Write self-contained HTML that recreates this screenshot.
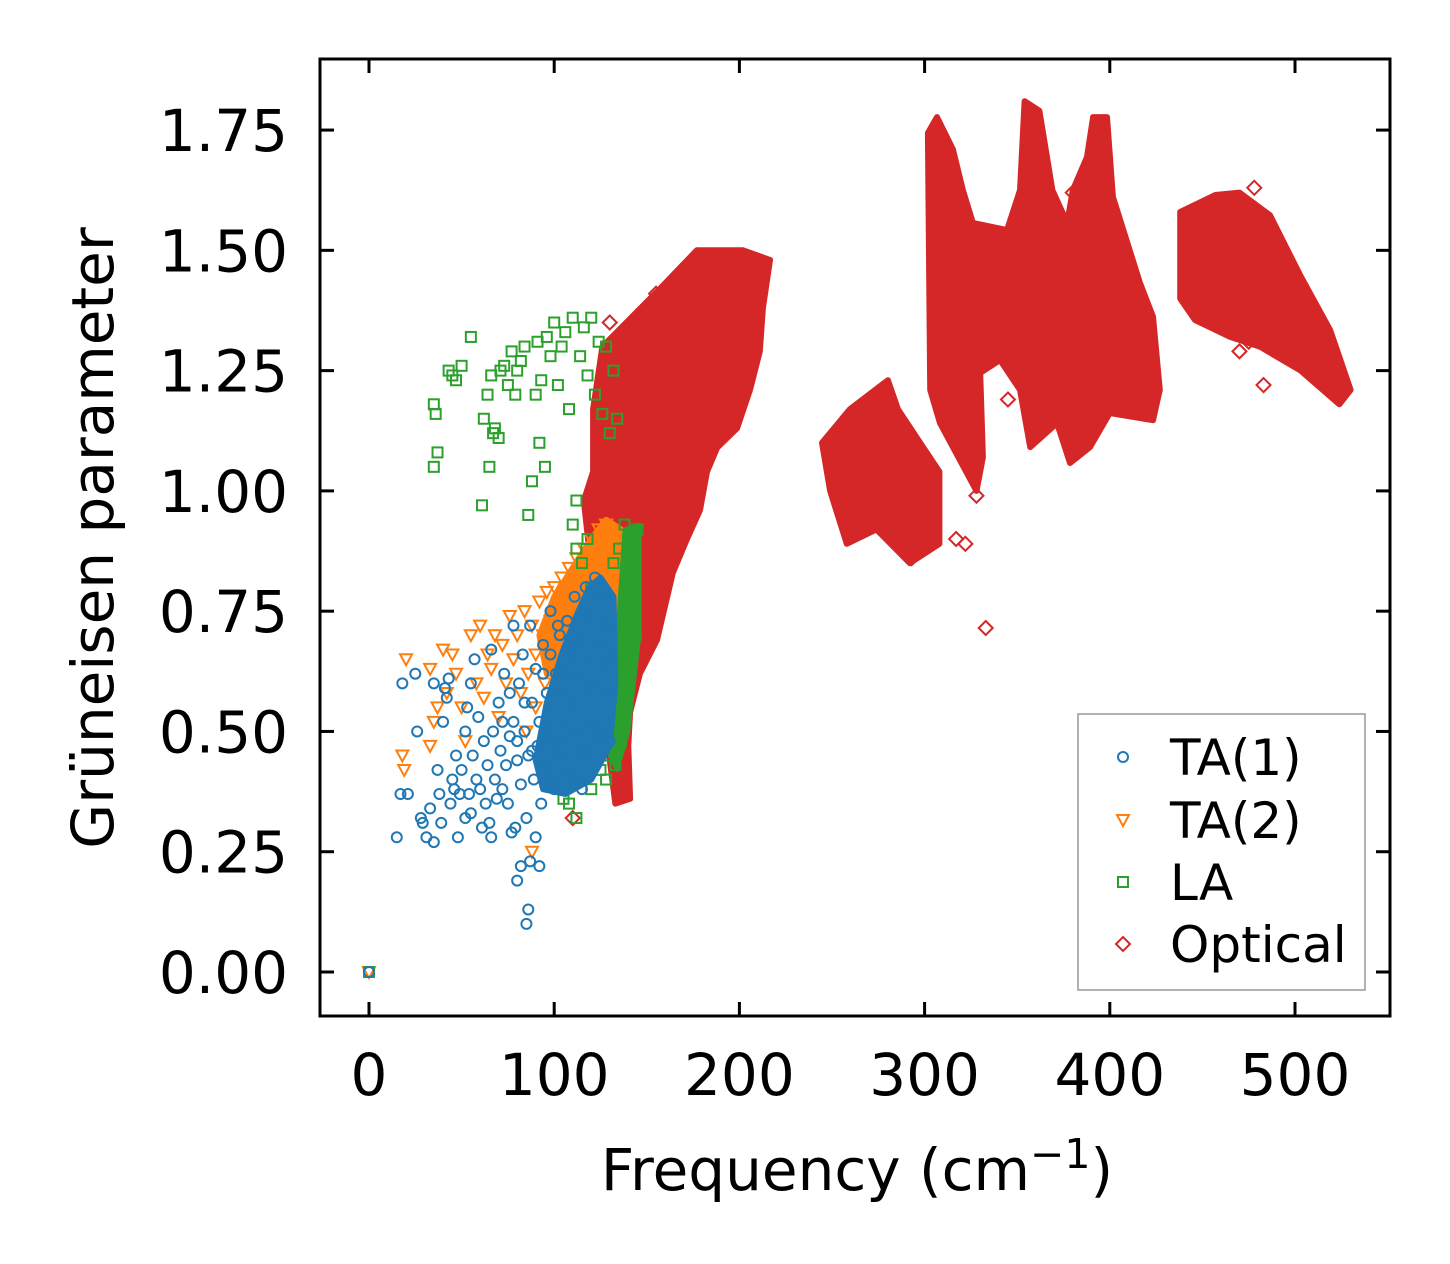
<!DOCTYPE html>
<html><head><meta charset="utf-8">
<style>
html,body{margin:0;padding:0;background:#fff;}
svg{display:block;font-family:"DejaVu Sans","Liberation Sans",sans-serif;}
</style></head>
<body>
<svg id="chart" width="1450" height="1264" viewBox="0 0 1450 1264" xmlns="http://www.w3.org/2000/svg">
<rect x="0" y="0" width="1450" height="1264" fill="#fff"/>
<g id="marks"></g>
<rect x="320" y="59" width="1070" height="957" fill="none" stroke="#000" stroke-width="3"/>
<g id="axes"></g>
<text x="857" y="1190" font-size="58" text-anchor="middle">Frequency (cm<tspan dy="-22" font-size="41">−1</tspan><tspan dy="22">)</tspan></text>
<text transform="translate(113,538) rotate(-90)" font-size="58" text-anchor="middle">Grüneisen parameter</text>
<g>
<rect x="1078" y="714" width="287" height="276" fill="#fff" stroke="#999" stroke-width="1.5"/>
<g><circle cx="1123" cy="757" r="5" fill="none" stroke="#1f77b4" stroke-width="2"/><text x="1170" y="775" font-size="50">TA(1)</text></g>
<g><path d="M1117,815 L1129,815 L1123,826 Z" fill="none" stroke="#ff7f0e" stroke-width="2"/><text x="1170" y="838" font-size="50">TA(2)</text></g>
<g><rect x="1118" y="877" width="10" height="10" fill="none" stroke="#2ca02c" stroke-width="2"/><text x="1170" y="900" font-size="50">LA</text></g>
<g><path d="M1123,937 L1130,944 L1123,951 L1116,944 Z" fill="none" stroke="#d62728" stroke-width="2"/><text x="1170" y="962" font-size="50">Optical</text></g>
</g>
</svg>
<script>
const xTicks=[0,100,200,300,400,500];
const yTicks=[0,0.25,0.5,0.75,1.0,1.25,1.5,1.75];
const yTickLabels=["0.00","0.25","0.50","0.75","1.00","1.25","1.50","1.75"];
const ta1=[[0,0],[15,0.28],[18,0.60],[17,0.37],[21,0.37],[25,0.62],[26,0.50],[28,0.32],[29,0.31],[31,0.28],[33,0.34],[35,0.27],[35,0.60],[37,0.42],[38,0.37],[39,0.31],[40,0.52],[41,0.59],[42,0.57],[43,0.61],[44,0.35],[45,0.40],[46,0.38],[47,0.45],[48,0.28],[49,0.37],[50,0.42],[52,0.32],[52,0.50],[53,0.55],[54,0.37],[55,0.33],[55,0.60],[56,0.45],[57,0.65],[58,0.40],[59,0.53],[60,0.38],[61,0.30],[62,0.48],[63,0.35],[64,0.43],[65,0.31],[66,0.28],[66,0.67],[67,0.50],[68,0.40],[69,0.36],[70,0.56],[71,0.46],[72,0.38],[73,0.62],[74,0.43],[75,0.35],[76,0.49],[77,0.29],[78,0.52],[78,0.72],[79,0.30],[80,0.19],[80,0.44],[81,0.60],[82,0.22],[82,0.39],[83,0.66],[84,0.50],[85,0.10],[85,0.32],[86,0.45],[86,0.13],[87,0.23],[87,0.72],[88,0.56],[89,0.40],[90,0.28],[90,0.63],[91,0.47],[92,0.22],[92,0.52],[93,0.35],[94,0.68],[95,0.43],[96,0.58],[97,0.49],[98,0.75],[99,0.40],[100,0.55],[101,0.62],[102,0.45],[103,0.70],[104,0.52],[105,0.48],[106,0.58],[107,0.73],[108,0.42],[109,0.66],[110,0.55],[111,0.78],[112,0.50],[113,0.62],[114,0.70],[115,0.46],[116,0.58],[117,0.80],[118,0.65],[119,0.52],[120,0.74],[121,0.60],[122,0.82],[123,0.55],[124,0.68],[125,0.78],[126,0.50],[127,0.64],[128,0.72],[129,0.58],[130,0.48],[131,0.66],[118,0.45],[110,0.40],[100,0.38],[96,0.50],[105,0.62],[112,0.68],[124,0.48],[115,0.38],[76,0.58],[72,0.52],[80,0.48],[84,0.56],[88,0.46],[94,0.62],[98,0.66],[102,0.72]];
const ta1Core=[[90,0.44],[96,0.56],[104,0.66],[112,0.74],[119,0.80],[125,0.82],[132,0.78],[133,0.60],[130,0.47],[120,0.40],[106,0.37],[94,0.38]];
const ta2=[[0,0],[18,0.45],[20,0.65],[19,0.42],[33,0.63],[33,0.47],[35,0.52],[37,0.55],[40,0.67],[42,0.58],[45,0.66],[47,0.62],[50,0.55],[52,0.48],[55,0.70],[58,0.60],[60,0.72],[62,0.57],[64,0.66],[66,0.63],[68,0.70],[70,0.53],[72,0.68],[74,0.60],[76,0.74],[78,0.65],[80,0.70],[82,0.58],[84,0.75],[86,0.62],[88,0.25],[88,0.72],[90,0.66],[92,0.77],[94,0.70],[96,0.79],[98,0.73],[100,0.80],[102,0.76],[104,0.82],[106,0.78],[108,0.84],[110,0.80],[112,0.86],[114,0.82],[116,0.88],[118,0.84],[120,0.90],[122,0.86],[124,0.92],[126,0.88],[128,0.93],[130,0.90],[132,0.86],[110,0.70],[115,0.75],[120,0.78],[125,0.82],[130,0.70],[105,0.72],[100,0.68],[95,0.60],[90,0.55],[85,0.50],[128,0.60],[132,0.65],[134,0.75]];
const ta2Core=[[92,0.70],[100,0.78],[110,0.84],[120,0.90],[128,0.94],[136,0.92],[135,0.70],[125,0.62],[110,0.62],[96,0.62]];
const la=[[0,0],[35,1.05],[35,1.18],[36,1.16],[37,1.08],[43,1.25],[45,1.24],[47,1.23],[50,1.26],[55,1.32],[61,0.97],[62,1.15],[64,1.20],[65,1.05],[66,1.24],[67,1.12],[68,1.13],[70,1.11],[71,1.25],[73,1.26],[75,1.22],[77,1.29],[79,1.20],[80,1.25],[82,1.27],[84,1.30],[86,0.95],[88,1.02],[90,1.20],[91,1.31],[92,1.10],[93,1.23],[95,1.05],[96,1.32],[98,1.28],[100,1.35],[102,1.22],[104,1.30],[106,1.33],[108,1.17],[110,1.36],[112,0.98],[114,1.28],[116,1.34],[118,1.24],[120,1.36],[122,1.20],[124,1.31],[126,1.16],[128,1.30],[130,1.12],[132,1.25],[134,1.15],[110,0.93],[112,0.88],[115,0.85],[118,0.90],[120,0.80],[125,0.78],[130,0.72],[132,0.85],[135,0.88],[138,0.93],[140,0.90],[142,0.85],[140,0.75],[138,0.68],[136,0.60],[134,0.55],[132,0.50],[130,0.45],[128,0.40],[125,0.42],[120,0.38],[115,0.40],[112,0.48],[108,0.35],[143,0.80],[144,0.70],[141,0.62],[139,0.55],[136,0.48],[133,0.43],[145,0.92],[110,0.40],[105,0.36],[112,0.32]];
const laCore=[[130,0.45],[134,0.70],[138,0.92],[146,0.93],[146,0.70],[140,0.50],[134,0.42]];
const opticalRegionA=[[177,1.50],[202,1.50],[216.5,1.48],[212.7,1.38],[211,1.29],[205.7,1.21],[198.7,1.13],[188,1.09],[182.5,1.04],[178.7,0.96],[171.7,0.90],[164.1,0.83],[155.5,0.69],[146.3,0.62],[141,0.54],[140,0.47],[141,0.36],[133,0.35],[130,0.44],[125,0.57],[122,0.77],[116,0.98],[121,1.04],[121,1.17],[126,1.30],[139,1.35],[157,1.42]];
const opticalRegionB=[[244.6,1.10],[259.7,1.17],[280.2,1.23],[285.6,1.17],[295.9,1.11],[308,1.04],[308,0.89],[292,0.85],[274,0.92],[258,0.89],[249,1.00]];
const opticalRegionC=[[306.7,1.777],[315.3,1.71],[320.7,1.625],[326.1,1.557],[344.5,1.542],[351.5,1.625],[354,1.81],[362,1.79],[369,1.625],[377,1.557],[380,1.625],[387.7,1.694],[391,1.777],[398.5,1.777],[401.7,1.611],[416.3,1.432],[423.3,1.362],[427,1.21],[423.3,1.147],[400,1.162],[389.3,1.091],[378.5,1.058],[371.5,1.141],[357,1.091],[351.5,1.21],[340.7,1.272],[330,1.245],[331.5,1.07],[328,1.00],[308.3,1.141],[303,1.21],[301.8,1.744]];
const opticalRegionD=[[438,1.58],[457,1.615],[470,1.62],[486.5,1.573],[502.7,1.449],[519,1.334],[530,1.21],[524,1.18],[503,1.25],[481,1.30],[465,1.32],[446,1.355],[438,1.40]];
const opticalPoints=[[333,0.715],[483,1.22],[155,1.41],[160,1.37],[130,1.35],[110,0.32],[345,1.19],[328,0.99],[322,0.89],[317,0.90],[293,0.86],[470,1.29],[475,1.31],[478,1.63],[366,1.63],[380,1.62],[316,1.56]];

const NS="http://www.w3.org/2000/svg";
const X0=369, XS=1.852, Y0=972, YS=481.1;
function xs(v){return X0+v*XS;}
function ys(v){return Y0-v*YS;}
const marks=document.getElementById('marks');
const axes=document.getElementById('axes');
function mk(tag,attrs,parent){const e=document.createElementNS(NS,tag);for(const k in attrs)e.setAttribute(k,attrs[k]);parent.appendChild(e);return e;}
function poly(arr){return arr.map(p=>xs(p[0]).toFixed(1)+','+ys(p[1]).toFixed(1)).join(' ');}

[opticalRegionA,opticalRegionB,opticalRegionC,opticalRegionD].forEach(function(r){
  const e=mk('polygon',{points:poly(r),fill:'#d62728',stroke:'#d62728','stroke-width':6,'stroke-linejoin':'round'},marks);
  
  
});
opticalPoints.forEach(function(p){
  const x=xs(p[0]),y=ys(p[1]);
  const e=mk('path',{d:`M${x},${y-7} L${x+7},${y} L${x},${y+7} L${x-7},${y} Z`,fill:'none',stroke:'#d62728','stroke-width':2},marks);
  
  
});
{const e=mk('polygon',{points:poly(ta2Core),fill:'#ff7f0e',stroke:'#ff7f0e','stroke-width':6,'stroke-linejoin':'round'},marks);

}
ta2.forEach(function(p){
  const x=xs(p[0]),y=ys(p[1]);
  const e=mk('path',{d:`M${x-6},${y-5} L${x+6},${y-5} L${x},${y+6} Z`,fill:'none',stroke:'#ff7f0e','stroke-width':2},marks);
  
  
});
{const e=mk('polygon',{points:poly(laCore),fill:'#2ca02c',stroke:'#2ca02c','stroke-width':4,'stroke-linejoin':'round'},marks);

}
la.forEach(function(p){
  const x=xs(p[0]),y=ys(p[1]);
  const e=mk('rect',{x:x-5,y:y-5,width:10,height:10,fill:'none',stroke:'#2ca02c','stroke-width':2},marks);
  
  
});
{const e=mk('polygon',{points:poly(ta1Core),fill:'#1f77b4',stroke:'#1f77b4','stroke-width':6,'stroke-linejoin':'round'},marks);

}
ta1.forEach(function(p){
  const e=mk('circle',{cx:xs(p[0]),cy:ys(p[1]),r:5,fill:'none',stroke:'#1f77b4','stroke-width':2},marks);
  
  
});
xTicks.forEach(function(t){
  const x=xs(t);
  const a=mk('line',{x1:x,y1:1016,x2:x,y2:1002,stroke:'#000','stroke-width':3},axes);
  
  
  const b=mk('line',{x1:x,y1:59,x2:x,y2:73,stroke:'#000','stroke-width':3},axes);
  
  
  const l=mk('text',{x:x,y:1095,'font-size':58,'text-anchor':'middle'},axes);
  l.textContent=String(t);
  
  
});
yTicks.forEach(function(t,i){
  const y=ys(t);
  const a=mk('line',{x1:320,y1:y,x2:334,y2:y,stroke:'#000','stroke-width':3},axes);
  
  
  const b=mk('line',{x1:1376,y1:y,x2:1390,y2:y,stroke:'#000','stroke-width':3},axes);
  
  
  const l=mk('text',{x:288,y:y+21,'font-size':58,'text-anchor':'end'},axes);
  l.textContent=yTickLabels[i];
  
  
});
</script>
</body></html>
